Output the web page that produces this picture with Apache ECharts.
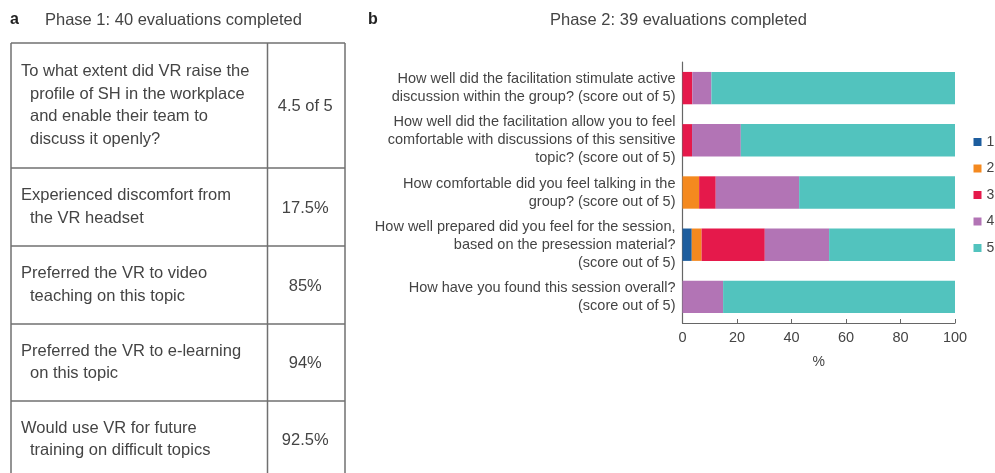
<!DOCTYPE html>
<html>
<head>
<meta charset="utf-8">
<script src="https://cdn.jsdelivr.net/npm/echarts@6/dist/echarts.min.js"></script>
<style>
html,body{margin:0;padding:0;background:#fff;}
#chart{width:995px;height:473px;}
</style>
</head>
<body>
<div id="chart"></div>
<script>
// ---- Panel a: table data ----
var tableTitle = "Phase 1: 40 evaluations completed";
var tableQuestions = [
  "To what extent did VR raise the\nprofile of SH in the workplace\nand enable their team to\ndiscuss it openly?",
  "Experienced discomfort from\nthe VR headset",
  "Preferred the VR to video\nteaching on this topic",
  "Preferred the VR to e-learning\non this topic",
  "Would use VR for future\ntraining on difficult topics"
];
var tableValues = ["4.5 of 5", "17.5%", "85%", "94%", "92.5%"];

// ---- Panel b: stacked bar data ----
var chartTitle = "Phase 2: 39 evaluations completed";
var categories = [
  "How well did the facilitation stimulate active\ndiscussion within the group? (score out of 5)",
  "How well did the facilitation allow you to feel\ncomfortable with discussions of this sensitive\ntopic? (score out of 5)",
  "How comfortable did you feel talking in the\ngroup? (score out of 5)",
  "How well prepared did you feel for the session,\nbased on the presession material?\n(score out of 5)",
  "How have you found this session overall?\n(score out of 5)"
];
var scoreNames = ["1", "2", "3", "4", "5"];
var score1 = [0, 0, 0, 3.4, 0];
var score2 = [0, 0, 6.1, 3.6, 0];
var score3 = [3.6, 3.5, 6.1, 23.2, 0];
var score4 = [7.0, 17.9, 30.6, 23.6, 14.9];
var score5 = [89.4, 78.6, 57.2, 46.2, 85.1];
var xTicks = [0, 20, 40, 60, 80, 100];

var colors = ["#1d5d9e", "#f4891f", "#e5194b", "#b274b5", "#52c3be"];
var FONT = "Liberation Sans, Arial, Helvetica, sans-serif";
var TXT = "#444";

// ---- table graphics ----
var rowEdges = [43, 168, 246, 324, 401, 478];
var tLeft = 11, tDiv = 267.5, tRight = 345;
var lineH = 22.5;
var TF = "16.5px " + FONT;
var g = [];
var lineStyle = {stroke: "#707070", lineWidth: 1.5};
g.push({type: "text", x: 10, y: 20, style: {text: "a", font: "bold 16px " + FONT, fill: "#222", verticalAlign: "middle", textVerticalAlign: "middle"}});
g.push({type: "text", x: 45, y: 20, style: {text: tableTitle, font: TF, fill: TXT, verticalAlign: "middle", textVerticalAlign: "middle"}});
g.push({type: "text", x: 368, y: 20, style: {text: "b", font: "bold 16px " + FONT, fill: "#222", verticalAlign: "middle", textVerticalAlign: "middle"}});
g.push({type: "text", x: 550, y: 20, style: {text: chartTitle, font: TF, fill: TXT, verticalAlign: "middle", textVerticalAlign: "middle"}});
// verticals
[tLeft, tDiv, tRight].forEach(function (x) {
  g.push({type: "line", shape: {x1: x, y1: rowEdges[0], x2: x, y2: 473}, style: lineStyle});
});
// horizontals
for (var i = 0; i < rowEdges.length - 1; i++) {
  g.push({type: "line", shape: {x1: tLeft, y1: rowEdges[i], x2: tRight, y2: rowEdges[i]}, style: lineStyle});
}
tableQuestions.forEach(function (q, r) {
  var lines = q.split("\n");
  var cy = (rowEdges[r] + rowEdges[r + 1]) / 2;
  var y0 = cy - (lines.length - 1) * lineH / 2;
  lines.forEach(function (ln, k) {
    g.push({type: "text", x: k === 0 ? 21 : 30, y: y0 + k * lineH,
      style: {text: ln, font: TF, fill: TXT, textVerticalAlign: "middle", verticalAlign: "middle"}});
  });
  g.push({type: "text", x: (tDiv + tRight) / 2 - 1, y: cy + 1,
    style: {text: tableValues[r], font: TF, fill: TXT, textAlign: "center", align: "center", textVerticalAlign: "middle", verticalAlign: "middle"}});
});

var seriesData = [score1, score2, score3, score4, score5];
var series = seriesData.map(function (d, i) {
  return {
    name: scoreNames[i], type: "bar", stack: "s", data: d,
    barCategoryGap: "38%",
    itemStyle: {color: colors[i]},
    emphasis: {disabled: true}
  };
});

var chart = echarts.init(document.getElementById("chart"), null, {renderer: "canvas"});
chart.setOption({
  animation: false,
  textStyle: {fontFamily: FONT},
  color: colors,
  graphic: g,
  legend: {
    orient: "vertical", left: 968.5, top: 130,
    itemWidth: 8, itemHeight: 8, itemGap: 12.5,
    icon: "rect",
    textStyle: {fontSize: 14, color: TXT, fontFamily: FONT},
    data: scoreNames
  },
  grid: {left: 682.5, right: 40, top: 62, height: 261, containLabel: false},
  xAxis: {
    type: "value", min: xTicks[0], max: xTicks[xTicks.length - 1], interval: 20,
    name: "%", nameLocation: "middle", nameGap: 32,
    nameTextStyle: {fontSize: 14, color: TXT},
    axisLine: {show: true, lineStyle: {color: "#666", width: 1.2}},
    axisTick: {show: true, inside: true, length: 4, lineStyle: {color: "#666"}},
    axisLabel: {fontSize: 14.5, color: TXT, margin: 7},
    splitLine: {show: false}
  },
  yAxis: {
    type: "category", data: categories, inverse: true,
    axisLine: {show: true, lineStyle: {color: "#666", width: 1.2}},
    axisTick: {show: false},
    axisLabel: {fontSize: 14.5, lineHeight: 18, color: TXT, margin: 7, align: "right"}
  },
  series: series
});
</script>
</body>
</html>
